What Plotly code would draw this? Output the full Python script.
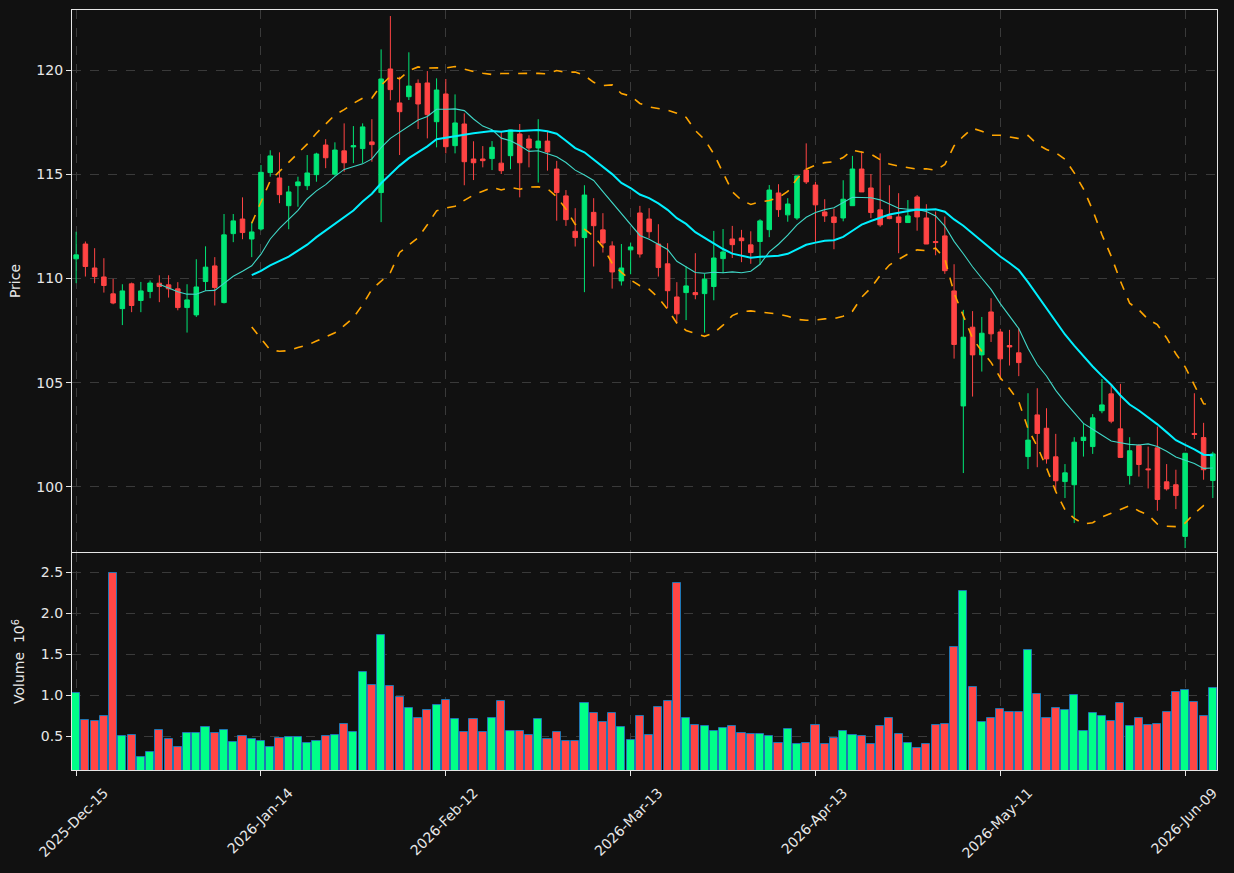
import pandas as pd
import plotly.graph_objects as go
from plotly.subplots import make_subplots

holidays = ["2025-12-25", "2026-01-01", "2026-01-19", "2026-02-16", "2026-04-03", "2026-05-25"]
dates = pd.bdate_range("2025-12-15", periods=124, freq="C", holidays=holidays)

opens = [110.94, 111.65, 110.50, 110.07, 109.26, 108.55, 109.74, 108.94, 109.37, 109.77,
         109.69, 109.50, 108.60, 108.25, 109.85, 110.60, 108.84, 112.15, 112.85, 111.89,
         112.37, 115.08, 114.82, 113.49, 114.45, 114.45, 114.98, 116.40, 115.00, 116.12,
         116.31, 116.23, 116.55, 114.12, 120.05, 118.42, 118.72, 119.36, 119.38, 117.52,
         118.85, 116.37, 117.41, 115.73, 115.73, 115.75, 115.53, 115.89, 116.93, 116.69,
         116.26, 116.59, 115.25, 113.96, 112.26, 111.96, 113.17, 112.33, 111.56, 109.88,
         111.37, 113.14, 112.85, 111.65, 110.70, 109.11, 109.32, 109.32, 109.27, 109.61,
         110.95, 111.89, 111.94, 111.61, 111.77, 112.34, 114.10, 113.05, 112.90, 115.20,
         114.48, 113.19, 112.95, 112.90, 113.49, 115.25, 114.34, 113.29, 113.00, 112.95,
         112.68, 113.91, 112.90, 111.77, 112.04, 109.40, 103.88, 107.66, 106.33, 108.39,
         107.43, 106.78, 106.43, 101.45, 103.45, 102.81, 101.44, 100.25, 100.10, 102.22,
         101.93, 103.65, 104.46, 102.78, 100.54, 101.98, 100.86, 101.87, 100.24, 100.10,
         97.62, 102.56, 102.36, 100.30]
highs = [112.24, 111.77, 111.45, 110.97, 109.98, 109.72, 109.80, 109.83, 109.90, 110.15,
         110.15, 109.82, 109.72, 110.92, 111.54, 111.02, 113.09, 113.09, 113.89, 112.72,
         115.44, 116.15, 116.05, 114.44, 114.88, 115.92, 116.03, 116.68, 116.53, 117.44,
         117.31, 117.44, 117.64, 120.99, 122.59, 119.68, 120.85, 119.55, 119.95, 119.60,
         119.57, 118.83, 117.92, 116.58, 116.35, 116.59, 117.04, 117.12, 117.41, 116.87,
         117.64, 117.04, 115.64, 114.24, 113.37, 114.47, 113.85, 113.13, 111.78, 111.65,
         111.72, 113.48, 113.37, 112.60, 111.69, 109.82, 110.57, 111.21, 110.22, 112.28,
         112.37, 112.52, 112.33, 112.26, 112.84, 114.48, 114.52, 113.85, 114.92, 116.48,
         114.64, 113.80, 113.35, 114.71, 115.88, 116.10, 115.01, 116.00, 114.47, 114.09,
         113.76, 114.00, 113.56, 113.21, 112.97, 110.68, 108.49, 108.43, 108.15, 109.05,
         107.58, 107.53, 107.61, 104.49, 104.73, 103.77, 102.54, 101.09, 102.38, 103.05,
         103.49, 105.17, 104.89, 104.94, 102.38, 102.05, 101.93, 102.89, 101.09, 100.82,
         101.61, 104.49, 103.07, 101.68]
lows = [109.77, 110.09, 109.77, 109.32, 108.76, 107.76, 108.38, 108.38, 109.05, 108.86,
        109.08, 108.47, 107.40, 108.15, 109.41, 108.70, 108.80, 111.74, 111.88, 111.02,
        112.30, 114.88, 113.61, 112.36, 113.44, 114.24, 114.64, 115.29, 114.93, 115.12,
        115.53, 115.53, 115.60, 112.70, 118.55, 115.92, 118.56, 117.17, 116.72, 116.29,
        116.00, 116.00, 114.47, 114.72, 115.33, 115.20, 115.01, 115.24, 113.89, 115.33,
        114.60, 115.17, 112.77, 112.52, 111.53, 109.34, 110.57, 111.24, 109.51, 109.66,
        110.20, 111.00, 111.93, 110.09, 108.57, 107.85, 108.00, 109.00, 107.40, 108.95,
        110.25, 110.98, 110.78, 110.70, 110.65, 111.98, 112.95, 112.72, 112.81, 114.53,
        111.69, 112.71, 111.40, 112.74, 113.49, 114.15, 112.89, 112.48, 112.84, 111.21,
        112.68, 112.29, 111.65, 111.11, 110.22, 106.15, 100.66, 104.33, 105.53, 106.95,
        105.13, 105.82, 105.31, 100.85, 100.94, 101.11, 99.81, 99.46, 98.26, 101.45,
        101.58, 103.53, 103.05, 101.41, 100.11, 100.49, 99.92, 98.85, 99.82, 98.93,
        97.06, 102.30, 100.34, 99.46]
closes = [111.13, 110.57, 110.09, 109.66, 108.82, 109.40, 108.70, 109.40, 109.78, 109.61,
          109.50, 108.60, 108.97, 109.59, 110.54, 109.56, 112.09, 112.76, 112.20, 112.23,
          115.09, 115.88, 114.02, 114.15, 114.63, 115.06, 115.97, 115.79, 116.16, 115.55,
          116.37, 117.27, 116.42, 119.57, 119.06, 118.00, 119.23, 118.37, 117.86, 119.04,
          116.32, 117.46, 115.60, 115.55, 115.65, 116.29, 115.17, 117.12, 115.55, 116.26,
          116.59, 116.07, 114.12, 112.82, 111.96, 114.00, 112.53, 111.70, 110.31, 110.50,
          111.51, 111.17, 112.24, 110.52, 109.41, 108.30, 109.64, 109.22, 109.96, 110.98,
          111.27, 111.62, 111.81, 111.24, 112.76, 114.24, 113.30, 113.57, 114.92, 114.63,
          113.53, 113.00, 112.68, 113.80, 115.25, 114.15, 113.16, 112.57, 112.87, 112.68,
          113.00, 112.95, 111.65, 111.72, 110.37, 106.83, 107.18, 106.33, 107.37, 107.34,
          106.14, 106.71, 105.96, 102.24, 102.56, 101.34, 100.29, 100.67, 102.14, 102.38,
          103.31, 103.93, 103.15, 101.41, 101.73, 101.07, 100.82, 99.39, 99.90, 99.58,
          101.61, 102.51, 100.82, 101.58]
volumes_m = [1.024, 0.700, 0.683, 0.744, 2.490, 0.504, 0.510, 0.244, 0.305, 0.573,
             0.463, 0.370, 0.537, 0.537, 0.614, 0.537, 0.573, 0.427, 0.504, 0.463,
             0.439, 0.366, 0.480, 0.488, 0.488, 0.415, 0.439, 0.504, 0.512, 0.646,
             0.549, 1.280, 1.122, 1.732, 1.110, 0.976, 0.841, 0.724, 0.821, 0.878,
             0.939, 0.707, 0.549, 0.707, 0.549, 0.720, 0.927, 0.557, 0.557, 0.512,
             0.707, 0.463, 0.549, 0.439, 0.439, 0.902, 0.776, 0.671, 0.776, 0.610,
             0.451, 0.744, 0.512, 0.854, 0.927, 2.366, 0.720, 0.634, 0.622, 0.557,
             0.598, 0.622, 0.537, 0.524, 0.524, 0.500, 0.415, 0.585, 0.402, 0.415,
             0.634, 0.402, 0.476, 0.561, 0.512, 0.500, 0.402, 0.622, 0.720, 0.524,
             0.415, 0.354, 0.402, 0.634, 0.646, 1.585, 2.268, 1.098, 0.671, 0.720,
             0.829, 0.793, 0.793, 1.549, 1.012, 0.720, 0.841, 0.817, 1.000, 0.561,
             0.780, 0.744, 0.683, 0.902, 0.622, 0.720, 0.634, 0.646, 0.793, 1.037,
             1.061, 0.915, 0.744, 1.085]

tick_idx = [0, 20, 40, 60, 80, 100, 120]
tick_text = [dates[i].strftime("%Y-%b-%d") for i in tick_idx]

UP = "#00e676"
DOWN = "#ff4444"
VUP = "#00ff88"
VDOWN = "#ff4646"
BG = "#111111"
TXT = "#e8e8e8"
GRID = "#3a3a3a"
FONT = "DejaVu Sans"

x = list(range(len(closes)))
close_s = pd.Series(closes)
ma10 = close_s.rolling(10).mean()
ma20 = close_s.rolling(20).mean()
std20 = close_s.rolling(20).std(ddof=0)
bb_up = ma20 + 2 * std20
bb_lo = ma20 - 2 * std20

fig = make_subplots(rows=2, cols=1, shared_xaxes=True, vertical_spacing=0)

fig.add_trace(go.Candlestick(
    x=x, open=opens, high=highs, low=lows, close=closes,
    increasing=dict(line=dict(color=UP, width=1), fillcolor=UP),
    decreasing=dict(line=dict(color=DOWN, width=1), fillcolor=DOWN),
    whiskerwidth=0, showlegend=False, hoverinfo="skip"), row=1, col=1)

fig.add_trace(go.Scatter(x=x, y=ma10, mode="lines",
                         line=dict(color="#40d8c8", width=1.1),
                         showlegend=False), row=1, col=1)
fig.add_trace(go.Scatter(x=x, y=ma20, mode="lines",
                         line=dict(color="#00f0ff", width=2),
                         showlegend=False), row=1, col=1)
fig.add_trace(go.Scatter(x=x, y=bb_up, mode="lines",
                         line=dict(color="#ffa500", width=1.6, dash="dash"),
                         showlegend=False), row=1, col=1)
fig.add_trace(go.Scatter(x=x, y=bb_lo, mode="lines",
                         line=dict(color="#ffa500", width=1.6, dash="dash"),
                         showlegend=False), row=1, col=1)

vcolors = [VUP if c >= o else VDOWN for o, c in zip(opens, closes)]
fig.add_trace(go.Bar(x=x, y=volumes_m, width=0.88,
                     marker=dict(color=vcolors, line=dict(color="#1f77b4", width=1)),
                     showlegend=False), row=2, col=1)

axis_common = dict(showline=True, mirror=True, linecolor="#e6e6e6", linewidth=1.2,
                   showgrid=True, gridcolor=GRID, griddash="dash", gridwidth=1,
                   zeroline=False, tickfont=dict(family=FONT, size=14, color=TXT),
                   ticks="outside", ticklen=5, tickcolor="#e6e6e6")

fig.update_xaxes(**axis_common, range=[-0.45, 123.45], tickmode="array",
                 tickvals=tick_idx, ticktext=tick_text)
fig.update_xaxes(showticklabels=False, rangeslider=dict(visible=False), row=1, col=1)
fig.update_xaxes(tickangle=-45, ticklabelshift=28, ticklabelstandoff=3, row=2, col=1)

fig.update_yaxes(**axis_common)
fig.update_yaxes(range=[96.87, 122.88], tickvals=[100, 105, 110, 115, 120],
                 title=dict(text="Price", font=dict(family=FONT, size=14, color=TXT), standoff=12),
                 domain=[0.2868, 1.0], row=1, col=1)
fig.update_yaxes(range=[0.085, 2.735], tickvals=[0.5, 1.0, 1.5, 2.0, 2.5], tickformat=".1f",
                 title=dict(text="Volume  10<sup>6</sup>", font=dict(family=FONT, size=14, color=TXT), standoff=12),
                 domain=[0.0, 0.2855], row=2, col=1)

fig.update_layout(width=1234, height=873, paper_bgcolor=BG, plot_bgcolor=BG,
                  margin=dict(l=72, r=17, t=10, b=103),
                  font=dict(family=FONT, size=14, color=TXT),
                  bargap=0, showlegend=False)

fig.write_html("out.html")
